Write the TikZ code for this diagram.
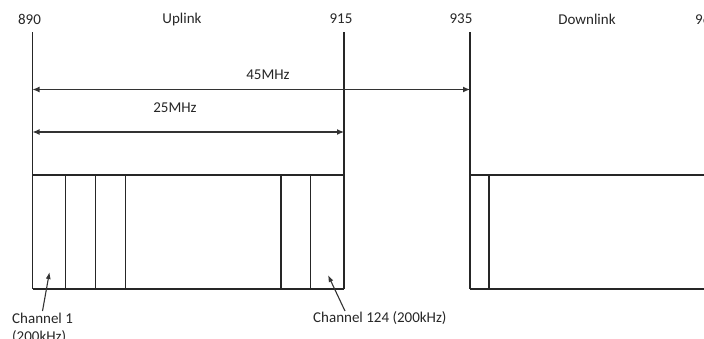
\documentclass[tikz,border=0pt]{standalone}
\usepackage{fontspec}
\setmainfont{Carlito}
\usetikzlibrary{arrows.meta}
\begin{document}
\begin{tikzpicture}[x=1pt,y=-1pt,
  lbl/.style={font=\fontsize{15}{17}\selectfont, text=black!85, inner sep=0pt},
  ln/.style={draw=black!85, line width=1.2pt},
  dim/.style={draw=black!80, line width=1.2pt, {Latex[length=7pt,width=6pt]}-{Latex[length=7pt,width=6pt]}},
  ptr/.style={draw=black!80, line width=1.1pt, -{Latex[length=7pt,width=5pt]}}]
\useasboundingbox (0,0) rectangle (704,338);
% top labels
\node[lbl] (f890) at (29.5,19) {890};
\node[lbl] (up) at (182,19) {Uplink};
\node[lbl] (f915) at (341,19) {915};
\node[lbl] (f935) at (461,19) {935};
\node[lbl] (down) at (587,19) {Downlink};
\node[lbl,anchor=west] (f960) at (695,19) {960};
% key coordinates
\coordinate (a0) at (32.5,32);
\coordinate (a1) at (32.5,289);
\coordinate (b0) at (344,32);
\coordinate (b1) at (344,289);
\coordinate (c0) at (470,32);
\coordinate (c1) at (470,289);
% main verticals
\draw[ln] (a0) -- (a1);
\draw[ln] (b0) -- (b1);
\draw[ln] (c0) -- (c1);
% uplink channel box
\draw[ln] (32.5,175) -- (344,175);
\draw[ln] (32.5,289) -- (344,289);
\foreach \x in {65.7,95.7,125.3,281,310.7}
  \draw[ln] (\x,175) -- (\x,289);
% downlink channel box
\draw[ln] (470,175) -- (710,175);
\draw[ln] (470,289) -- (710,289);
\draw[ln] (489,175) -- (489,289);
% dimension arrows
\coordinate (d45a) at (32.5,89.5);
\coordinate (d45b) at (470,89.5);
\coordinate (d25a) at (32.5,132);
\coordinate (d25b) at (344,132);
\draw[dim] (d45a) -- (d45b);
\draw[dim] (d25a) -- (d25b);
\node[lbl] (l45) at (268,75) {45MHz};
\node[lbl] (l25) at (175,108) {25MHz};
% channel labels
\node[lbl,anchor=west] (ch1) at (12,318) {Channel 1};
\node[lbl,anchor=west] (ch1b) at (12,337) {(200kHz)};
\node[lbl,anchor=west] (ch124) at (313,318) {Channel 124 (200kHz)};
\coordinate (p1) at (49.5,272);
\coordinate (p124) at (328,275);
\draw[ptr] (42.5,311) -- (p1);
\draw[ptr] (345,311) -- (p124);
\end{tikzpicture}
\end{document}
